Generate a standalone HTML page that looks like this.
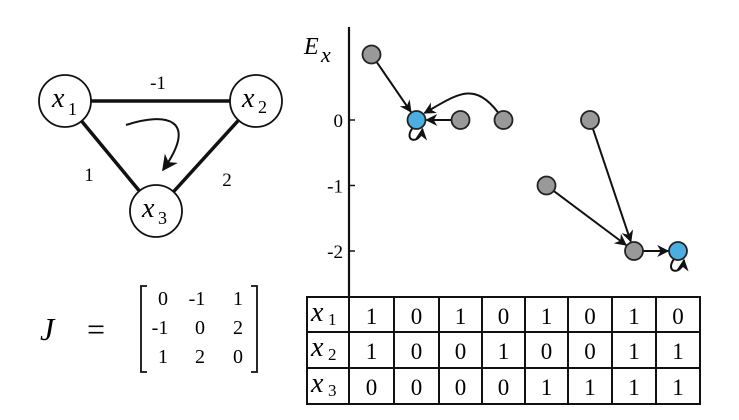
<!DOCTYPE html>
<html><head><meta charset="utf-8"><style>
body{margin:0;background:#fff}
svg{display:block}
text{font-family:"Liberation Serif","DejaVu Serif",serif}
</style></head><body>
<svg width="739" height="420" viewBox="0 0 739 420" font-family="Liberation Serif, DejaVu Serif, serif">
<defs>
<marker id="ah" viewBox="0 0 10 10" refX="9" refY="5" markerWidth="12" markerHeight="12" orient="auto-start-reverse" markerUnits="userSpaceOnUse"><path d="M0,0 L10,5 L0,10 L3,5 z" fill="#111"/></marker>
<marker id="ah2" viewBox="0 0 10 10" refX="9" refY="5" markerWidth="16" markerHeight="16" orient="auto" markerUnits="userSpaceOnUse"><path d="M0,0 L10,5 L0,10 L3,5 z" fill="#111"/></marker>
</defs>
<g>
<line x1="65" y1="101" x2="256" y2="101" stroke="#111" stroke-width="3.5"/>
<line x1="65" y1="101" x2="156" y2="211" stroke="#111" stroke-width="3.5"/>
<line x1="256" y1="101" x2="156" y2="211" stroke="#111" stroke-width="3.5"/>
<text x="158" y="89" font-size="19" text-anchor="middle">-1</text>
<text x="89" y="181" font-size="19" text-anchor="middle">1</text>
<text x="227" y="186" font-size="19" text-anchor="middle">2</text>
<path d="M126,125 C165,112 200,118 163,170" fill="none" stroke="#111" stroke-width="2" marker-end="url(#ah2)"/>
<g><circle cx="65" cy="101" r="26" fill="#fff" stroke="#111" stroke-width="1.8"/><text x="52" y="107" font-size="28" font-style="italic">x</text><text x="68" y="115" font-size="18">1</text></g>
<g><circle cx="256" cy="101" r="26" fill="#fff" stroke="#111" stroke-width="1.8"/><text x="242" y="107" font-size="28" font-style="italic">x</text><text x="258" y="113" font-size="18">2</text></g>
<g><circle cx="156" cy="211" r="26" fill="#fff" stroke="#111" stroke-width="1.8"/><text x="142" y="217" font-size="28" font-style="italic">x</text><text x="158" y="224" font-size="18">3</text></g>
</g>
<g>
<text x="40" y="340" font-size="32" font-style="italic">J</text>
<text x="96" y="340" font-size="32" text-anchor="middle">=</text>
<path d="M147,286 L141,286 L141,372 L147,372 M251,286 L257,286 L257,372 L251,372" fill="none" stroke="#111" stroke-width="1.8"/>
<g font-size="20" text-anchor="middle">
<text x="163" y="305">0</text><text x="197" y="305">-1</text><text x="238" y="305">1</text>
<text x="160" y="334">-1</text><text x="200" y="334">0</text><text x="238" y="334">2</text>
<text x="163" y="363">1</text><text x="200" y="363">2</text><text x="238" y="363">0</text>
</g>
</g>
<g id="chart"></g>
</svg>
<script>
const states = ["s1","s2","s3","s4","s5","s6","s7","s8"];
const energies = [1,0,0,0,-1,0,-2,-2];
const x1Row = [1,0,1,0,1,0,1,0];
const x2Row = [1,0,0,1,0,0,1,1];
const x3Row = [0,0,0,0,1,1,1,1];
const stable = [false,true,false,false,false,false,false,true];
const transitions = [[0,1],[2,1],[3,1],[4,6],[5,6],[6,7]];
const yTicks = [0,-1,-2];

const NS="http://www.w3.org/2000/svg";
const g=document.getElementById('chart');
const colEdges=[307,349,394,439,482,525,568,612,656,700];
function xS(i){return (colEdges[i+1]+colEdges[i+2])/2;}
function yS(v){return 120-v*65.5;}
function mk(t,a,p){const e=document.createElementNS(NS,t);for(const k in a)e.setAttribute(k,a[k]);(p||g).appendChild(e);return e;}
let ax=mk('line',{x1:349,y1:27,x2:349,y2:297,stroke:'#111','stroke-width':2.2});


let yl=mk('text',{x:304,y:54,'font-size':24,'font-style':'italic'});yl.textContent='E';


let ys=mk('text',{x:321,y:62,'font-size':22,'font-style':'italic'});ys.textContent='x';
yTicks.forEach(v=>{
 let t=mk('line',{x1:349,y1:yS(v),x2:355,y2:yS(v),stroke:'#111','stroke-width':1.5});
 
 
 let l=mk('text',{x:343,y:yS(v)+7,'font-size':19,'text-anchor':'end'});l.textContent=String(v);
 
 
});
const R=9;
transitions.forEach(([a,b])=>{
 const x0=xS(a),y0=yS(energies[a]),x1=xS(b),y1=yS(energies[b]);
 let p;
 if(a===3){
  p=mk('path',{d:`M${x0-5},${y0-7} C${x0-30},${y0-40} ${x1+40},${y0-25} ${x1+8},${y1-7}`,fill:'none',stroke:'#111','stroke-width':2,'marker-end':'url(#ah)'});
 } else {
  const dx=x1-x0,dy=y1-y0,d=Math.hypot(dx,dy);
  p=mk('line',{x1:x0+dx/d*R,y1:y0+dy/d*R,x2:x1-dx/d*(R+1),y2:y1-dy/d*(R+1),stroke:'#111','stroke-width':2,'marker-end':'url(#ah)'});
 }
 
 
});
states.forEach((s,i)=>{
 const cx=xS(i),cy=yS(energies[i]);
 if(stable[i]){
  let l=mk('path',{d:`M${cx-4},${cy+8} C${cx-14},${cy+22} ${cx+4},${cy+25} ${cx+6},${cy+9}`,fill:'none',stroke:'#111','stroke-width':2,'marker-end':'url(#ah)'});
  
  
 }
 let c=mk('circle',{cx:cx,cy:cy,r:R,fill:stable[i]?'#4aaee0':'#999',stroke:'#222','stroke-width':1.8});
 
 
});
const tb=mk('g',{});


const rowsY=[297,332,368,404];
const rows=[x1Row,x2Row,x3Row];
mk('rect',{x:307,y:297,width:393,height:107,fill:'none',stroke:'#111','stroke-width':2},tb);
rowsY.slice(1,3).forEach(y=>mk('line',{x1:307,y1:y,x2:700,y2:y,stroke:'#111','stroke-width':2},tb));
colEdges.slice(1,-1).forEach(x=>mk('line',{x1:x,y1:297,x2:x,y2:404,stroke:'#111','stroke-width':2},tb));
rows.forEach((r,ri)=>{
 const yb=rowsY[ri]+27;
 let h=mk('text',{x:311,y:yb-3,'font-size':28,'font-style':'italic'},tb);h.textContent='x';
 
 
 let hs=mk('text',{x:328,y:yb+1,'font-size':17},tb);hs.textContent=String(ri+1);
 r.forEach((v,i)=>{
  let t=mk('text',{x:xS(i),y:yb,'font-size':23,'text-anchor':'middle'},tb);t.textContent=String(v);
  
  
 });
});
</script>
</body></html>
